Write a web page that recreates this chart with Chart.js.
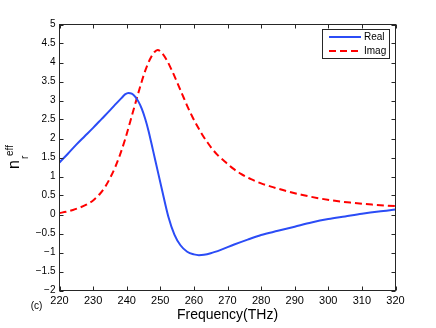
<!DOCTYPE html>
<html lang="en">
<head>
    <meta charset="UTF-8">
    <title>Effective index</title>
    <script src="https://cdn.jsdelivr.net/npm/chart.js"></script>
    <style>
        body {
            margin: 0;
            padding: 0;
            background-color: #ffffff;
        }
        #chart {
            display: block;
        }
    </style>
</head>
<body>
    <canvas id="chart" width="436" height="328"></canvas>

    <script>
        // values
        const freqReal = [220, 222.5, 225, 227.5, 230, 232.5, 235, 237, 238.5, 239.5, 240.5, 241.5, 242.5, 243.5, 244.5, 245.5, 246.5, 247.8, 248.5, 250.5, 252.4, 254.2, 256, 258, 260, 261.5, 263, 265, 268, 272, 276, 280, 285, 290, 295, 300, 305, 310, 315, 320];
        const realVals = [1.37, 1.60, 1.84, 2.06, 2.28, 2.51, 2.74, 2.93, 3.07, 3.16, 3.20, 3.18, 3.10, 2.97, 2.78, 2.52, 2.20, 1.70, 1.43, 0.65, -0.06, -0.53, -0.81, -0.98, -1.05, -1.07, -1.06, -1.02, -0.93, -0.79, -0.66, -0.54, -0.43, -0.32, -0.21, -0.12, -0.05, 0.02, 0.08, 0.13];

        const freqImag = [220, 222, 224, 226, 228, 230, 232, 233.6, 235, 236.6, 238, 239.6, 241, 242.5, 244, 245.5, 247, 248.2, 249.2, 250.5, 252, 253.5, 255, 256.5, 258, 259.5, 261, 262.5, 264, 265.5, 267, 269, 271.5, 274, 277, 280, 283.5, 287, 292, 297, 302, 307, 313, 320];
        const imagVals = [0.04, 0.07, 0.12, 0.18, 0.26, 0.37, 0.54, 0.73, 0.95, 1.25, 1.57, 2.00, 2.43, 2.90, 3.36, 3.78, 4.10, 4.27, 4.33, 4.25, 4.05, 3.78, 3.48, 3.17, 2.86, 2.58, 2.33, 2.10, 1.90, 1.72, 1.57, 1.41, 1.22, 1.07, 0.93, 0.82, 0.72, 0.63, 0.52, 0.43, 0.36, 0.31, 0.26, 0.22];

        const seriesNames = ['Real', 'Imag'];
        const xTicks = [220, 230, 240, 250, 260, 270, 280, 290, 300, 310, 320];
        const yTicks = [-2, -1.5, -1, -0.5, 0, 0.5, 1, 1.5, 2, 2.5, 3, 3.5, 4, 4.5, 5];

        const FONT = 'Liberation Sans, Arial, Helvetica, sans-serif';
        const AXIS_COLOR = '#262626';

        function toPoints(xs, ys) {
            return xs.map((x, i) => ({ x: x, y: ys[i] }));
        }

        // box around the plot with inward tick marks on all four sides
        const boxPlugin = {
            id: 'box',
            afterDatasetsDraw(chart) {
                const c = chart.ctx;
                const a = chart.chartArea;
                const xs = chart.scales.x;
                const ys = chart.scales.y;
                const len = 4;
                c.save();
                c.strokeStyle = AXIS_COLOR;
                c.lineWidth = 1;
                c.beginPath();
                xTicks.forEach(v => {
                    const px = Math.round(xs.getPixelForValue(v)) + 0.5;
                    c.moveTo(px, a.bottom); c.lineTo(px, a.bottom - len);
                    c.moveTo(px, a.top); c.lineTo(px, a.top + len);
                });
                yTicks.forEach(v => {
                    const py = Math.round(ys.getPixelForValue(v)) + 0.5;
                    c.moveTo(a.left, py); c.lineTo(a.left + len, py);
                    c.moveTo(a.right, py); c.lineTo(a.right - len, py);
                });
                c.stroke();
                c.strokeRect(a.left, a.top, a.right - a.left, a.bottom - a.top);
                c.restore();
            }
        };

        // legend box in the upper right corner of the plot
        const legendPlugin = {
            id: 'cornerLegend',
            afterDraw(chart) {
                const c = chart.ctx;
                const x0 = 322.5, y0 = 29.5, w = 67, h = 29;
                c.save();
                c.fillStyle = '#ffffff';
                c.fillRect(x0, y0, w, h);
                c.strokeStyle = AXIS_COLOR;
                c.lineWidth = 1;
                c.strokeRect(x0, y0, w, h);
                chart.data.datasets.forEach((ds, i) => {
                    const y = 37 + i * 14;
                    c.strokeStyle = ds.borderColor;
                    c.lineWidth = ds.borderWidth;
                    c.setLineDash(ds.borderDash || []);
                    c.beginPath();
                    c.moveTo(329, y);
                    c.lineTo(361, y);
                    c.stroke();
                    c.setLineDash([]);
                    c.fillStyle = '#000000';
                    c.font = '10px ' + FONT;
                    c.textAlign = 'left';
                    c.textBaseline = 'middle';
                    c.fillText(ds.label, 364, y + 0.5);
                });
                c.restore();
            }
        };

        // rotated y label n_r^eff and the panel tag (c)
        const labelPlugin = {
            id: 'labels',
            afterDraw(chart) {
                const c = chart.ctx;
                c.save();
                c.fillStyle = '#000000';
                c.font = '10px ' + FONT;
                c.textAlign = 'center';
                c.textBaseline = 'middle';
                c.fillText('(c)', 36.5, 306);

                c.rotate(-Math.PI / 2);
                c.textAlign = 'left';
                c.textBaseline = 'alphabetic';
                c.font = '16px ' + FONT;
                c.fillText('n', -169, 18.5);
                c.font = '10px ' + FONT;
                c.fillText('r', -159, 28);
                c.fillText('eff', -156, 12.5);
                c.restore();
            }
        };

        document.addEventListener('DOMContentLoaded', function() {
            const ctx = document.getElementById('chart').getContext('2d');

            new Chart(ctx, {
                type: 'line',
                data: {
                    datasets: [{
                        label: seriesNames[0],
                        data: toPoints(freqReal, realVals),
                        borderColor: '#2b4cf6',
                        borderWidth: 2,
                        pointRadius: 0,
                        cubicInterpolationMode: 'monotone',
                        fill: false
                    }, {
                        label: seriesNames[1],
                        data: toPoints(freqImag, imagVals),
                        borderColor: '#ff0000',
                        borderWidth: 2,
                        borderDash: [7, 4],
                        pointRadius: 0,
                        cubicInterpolationMode: 'monotone',
                        fill: false
                    }]
                },
                options: {
                    responsive: false,
                    animation: false,
                    layout: {
                        padding: { top: 24.5, right: 40.5, left: 0, bottom: 0 }
                    },
                    plugins: {
                        legend: { display: false },
                        tooltip: { enabled: false }
                    },
                    scales: {
                        x: {
                            type: 'linear',
                            min: 220,
                            max: 320,
                            grid: { display: false, drawTicks: false },
                            border: { display: false },
                            afterBuildTicks: s => { s.ticks = xTicks.map(v => ({ value: v })); },
                            afterFit: s => { s.height = 37.5; },
                            ticks: {
                                padding: 4,
                                maxRotation: 0,
                                color: '#000000',
                                font: { family: FONT, size: 11 }
                            },
                            title: {
                                display: true,
                                text: 'Frequency(THz)',
                                color: '#000000',
                                font: { family: FONT, size: 14 },
                                padding: { top: 0, bottom: 4.5 }
                            }
                        },
                        y: {
                            min: -2,
                            max: 5,
                            grid: { display: false, drawTicks: false },
                            border: { display: false },
                            afterBuildTicks: s => { s.ticks = yTicks.map(v => ({ value: v })); },
                            afterFit: s => { s.width = 59.5; },
                            ticks: {
                                padding: 4,
                                color: '#000000',
                                font: { family: FONT, size: 10 },
                                callback: v => String(v).replace('-', '\u2212')
                            }
                        }
                    }
                },
                plugins: [boxPlugin, legendPlugin, labelPlugin]
            });
        });
    </script>
</body>
</html>
